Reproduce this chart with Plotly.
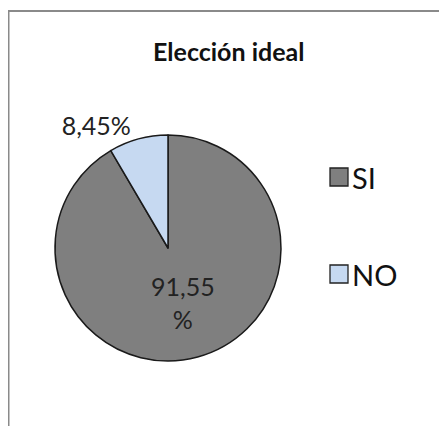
import plotly.graph_objects as go

title = "Elección ideal"
labels = ["SI", "NO"]
values = [91.55, 8.45]
colors = ["#7f7f7f", "#c6d9f1"]

def fmt(v):
    return f"{v:.2f}".replace(".", ",")

texts = [fmt(values[0]) + "<br>%", fmt(values[1]) + "%"]

W, H = 447, 426
OFF = 8  # page body margin
FONT = "Lato, Open Sans, sans-serif"

def px(x):
    return (x - OFF) / W

def py(y):
    return 1 - (y - OFF) / H

cx, cy, r = 168, 248, 113
fig = go.Figure()
fig.add_trace(go.Pie(
    labels=labels, values=values, sort=False, direction="clockwise", rotation=0,
    marker=dict(colors=colors, line=dict(color="#1a1a1a", width=1.5)),
    text=texts, textinfo="text", textposition=["inside", "outside"],
    insidetextorientation="horizontal",
    textfont=dict(family=FONT, size=25, color="#222222"),
    domain=dict(x=[px(cx - r), px(cx + r)], y=[py(cy + r), py(cy - r)]),
    showlegend=False, hoverinfo="label+percent",
))

shapes = [
    dict(type="line", xref="paper", yref="paper", x0=px(8), x1=1, y0=py(11), y1=py(11),
         line=dict(color="#8a8a8a", width=2)),
    dict(type="line", xref="paper", yref="paper", x0=px(8.5), x1=px(8.5), y0=0, y1=py(11),
         line=dict(color="#8a8a8a", width=2)),
]
annotations = [
    dict(text="<b>" + title + "</b>", xref="paper", yref="paper", x=px(228), y=py(51),
         showarrow=False, font=dict(family=FONT, size=25, color="#111111"),
         xanchor="center", yanchor="middle"),
]
leg_y = [177, 274]
for i, (lab, col) in enumerate(zip(labels, colors)):
    y = leg_y[i]
    shapes.append(dict(type="rect", xref="paper", yref="paper",
                       x0=px(330), x1=px(348), y0=py(y + 9), y1=py(y - 9),
                       fillcolor=col, line=dict(color="#222222", width=1.3)))
    annotations.append(dict(text=lab, xref="paper", yref="paper", x=px(350), y=py(y),
                            showarrow=False, xanchor="left", yanchor="middle",
                            font=dict(family=FONT, size=29, color="#111111")))

fig.update_layout(
    width=W, height=H, margin=dict(l=0, r=0, t=0, b=0),
    paper_bgcolor="white", plot_bgcolor="white",
    shapes=shapes, annotations=annotations,
)
fig.write_html("out.html")
